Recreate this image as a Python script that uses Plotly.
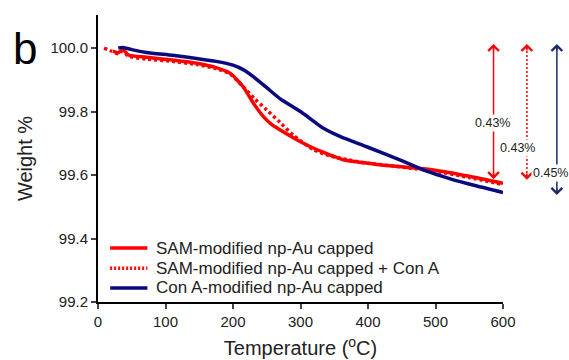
import plotly.graph_objects as go

# Data
t_sam = [22, 30, 37, 45, 72, 110, 146, 175, 196, 215, 230, 245, 258, 270, 300, 319, 344, 363, 400, 423, 460, 497, 550, 600]
w_sam = [99.99, 99.985, 99.995, 99.978, 99.971, 99.962, 99.952, 99.938, 99.92, 99.878, 99.827, 99.784, 99.758, 99.742, 99.705, 99.685, 99.663, 99.648, 99.637, 99.631, 99.624, 99.616, 99.596, 99.574]

t_samcon = [9, 20, 30, 37, 45, 72, 110, 146, 175, 196, 215, 232, 250, 270, 290, 319, 344, 370, 400, 430, 470, 500, 550, 600]
w_samcon = [100.0, 99.99, 99.982, 99.99, 99.975, 99.965, 99.958, 99.948, 99.935, 99.918, 99.878, 99.84, 99.805, 99.765, 99.724, 99.68, 99.66, 99.648, 99.637, 99.63, 99.62, 99.612, 99.592, 99.57]

t_con = [30, 37, 50, 72, 110, 146, 175, 200, 215, 230, 250, 270, 300, 334, 360, 398, 448, 487, 522, 560, 600]
w_con = [100.0, 100.002, 99.995, 99.986, 99.977, 99.967, 99.958, 99.946, 99.932, 99.91, 99.875, 99.84, 99.8, 99.747, 99.72, 99.689, 99.647, 99.612, 99.588, 99.566, 99.545]

names = ["SAM-modified np-Au capped", "SAM-modified np-Au capped + Con A", "Con A-modified np-Au capped"]
losses = ["0.43%", "0.43%", "0.45%"]
x_ticks = [0, 100, 200, 300, 400, 500, 600]
y_ticks = [99.2, 99.4, 99.6, 99.8, 100.0]

RED = "#ff0000"
NAVY = "#0a0a80"
FONT = "Liberation Sans, Arial, sans-serif"
styles = [dict(color=RED, dash="solid"), dict(color=RED, dash="3px,3px"), dict(color=NAVY, dash="solid")]

fig = go.Figure()
for t, w, nm, st in [(t_sam, w_sam, names[0], styles[0]),
                     (t_samcon, w_samcon, names[1], styles[1]),
                     (t_con, w_con, names[2], styles[2])]:
    fig.add_trace(go.Scatter(x=t, y=w, mode="lines", name=nm, showlegend=False,
                             line=dict(color=st["color"], width=3.5, dash=st["dash"],
                                       shape="spline", smoothing=0.6)))

# Legend (drawn manually for tight spacing)
leg_y = [0.188, 0.118, 0.049]
for nm, st, ly in zip(names, styles, leg_y):
    fig.add_shape(type="line", xref="paper", yref="paper", x0=0.030, x1=0.122, y0=ly, y1=ly,
                  line=dict(color=st["color"], width=3.5,
                            dash="2px,2px" if st["dash"] != "solid" else "solid"))
    fig.add_annotation(xref="paper", yref="paper", x=0.139, y=ly, xanchor="left", yanchor="middle",
                       text=nm, showarrow=False,
                       font=dict(family=FONT, size=17, color="#222"))

# Arrows indicating weight loss
arrow_specs = [
    dict(xref="x", x=586, y0=100.013, y1=99.587, color=RED, dash="solid", label=losses[0], lx=584, ly=99.764),
    dict(xref="paper", x=1.059, y0=100.013, y1=99.585, color=RED, dash="2px,2px", label=losses[1], lx=1.037, ly=99.685),
    dict(xref="paper", x=1.133, y0=100.013, y1=99.537, color="#1a2a6c", dash="solid", label=losses[2], lx=1.117, ly=99.606),
]
for a in arrow_specs:
    fig.add_shape(type="line", xref=a["xref"], yref="y", x0=a["x"], x1=a["x"],
                  y0=a["y0"] - 0.01, y1=a["y1"] + 0.01,
                  line=dict(color=a["color"], width=1.5, dash=a["dash"]))
    for yy, ay in [(a["y0"], 8), (a["y1"], -8)]:
        fig.add_annotation(xref=a["xref"], yref="y", x=a["x"], y=yy, ax=0, ay=ay,
                           text="", showarrow=True, arrowhead=4, arrowsize=1.4,
                           arrowwidth=1.5, arrowcolor=a["color"])
    fig.add_annotation(xref=a["xref"], yref="y", x=a["lx"], y=a["ly"], text=a["label"],
                       xanchor="center", yanchor="middle",
                       showarrow=False, bgcolor="white", borderpad=1,
                       font=dict(family=FONT, size=12.5, color="#222"))

fig.add_annotation(xref="paper", yref="paper", x=-0.215, y=0.975, xanchor="left", yanchor="top",
                   text="b", showarrow=False,
                   font=dict(family=FONT, size=44, color="black"))

fig.update_layout(
    width=569, height=360,
    margin=dict(l=98, r=66, t=15, b=58),
    paper_bgcolor="white", plot_bgcolor="white",
    font=dict(family=FONT, color="#222"),
    showlegend=False,
    xaxis=dict(range=[0, 600], tickvals=x_ticks, ticks="outside", ticklen=5, tickwidth=2,
               showline=True, linecolor="black", linewidth=2, showgrid=False, zeroline=False,
               automargin=False, tickfont=dict(size=15, color="#222"),
               title=dict(text="Temperature (<sup>o</sup>C)", font=dict(size=20, color="#222"), standoff=12)),
    yaxis=dict(range=[99.2, 100.104], tickvals=y_ticks, tickformat=".1f", ticks="outside",
               ticklen=5, tickwidth=2, showline=True, linecolor="black", linewidth=2,
               showgrid=False, zeroline=False, automargin=False, tickfont=dict(size=15, color="#222"),
               title=dict(text="Weight %", font=dict(size=20, color="#222"), standoff=12)),
)

fig.write_html("out.html")
